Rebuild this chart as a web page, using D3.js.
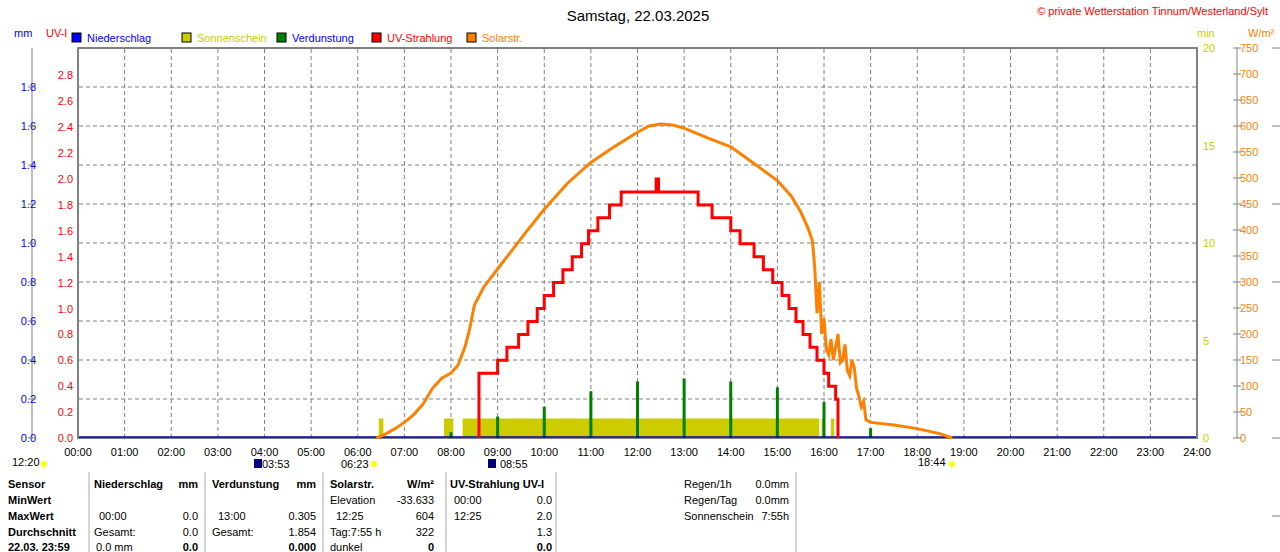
<!DOCTYPE html><html><head><meta charset="utf-8"><script src="https://cdn.jsdelivr.net/npm/d3@7"></script>
<style>body{margin:0;background:#fff}text{font-family:"Liberation Sans",Arial,sans-serif;font-size:11px}</style></head><body><svg id="c" width="1280" height="552"></svg><script>
const hours=d3.range(0,25);
const solarT=[6.4,6.6,6.8,7.0,7.2,7.4,7.6,7.8,8.0,8.15,8.3,8.4,8.5,8.7,9.0,9.3,9.6,10.0,10.5,11.0,11.5,12.0,12.25,12.5,12.75,13.0,13.5,14.0,14.5,15.0,15.3,15.5,15.65,15.75,15.8,15.85,15.9,15.95,16.0,16.05,16.1,16.15,16.2,16.25,16.3,16.35,16.4,16.45,16.5,16.55,16.6,16.65,16.7,16.75,16.8,16.85,16.9,17.0,17.5,18.0,18.5,18.75];
const solarW=[0,8,18,30,45,65,95,115,125,140,175,210,255,290,325,360,395,440,490,530,560,588,600,604,602,596,577,560,528,495,465,435,405,380,330,240,300,200,230,170,160,190,150,175,200,145,150,180,130,120,150,135,95,80,60,70,35,30,25,18,8,0];
const uvT=[8.6,8.6,9.0,9.2,9.45,9.65,9.85,10.0,10.2,10.4,10.6,10.8,10.95,11.15,11.4,11.65,12.4,12.45,12.5,13.3,13.6,14.0,14.2,14.5,14.7,14.9,15.1,15.25,15.4,15.55,15.7,15.85,16.0,16.1,16.25,16.3];
const uvV=[0,0.5,0.6,0.7,0.8,0.9,1.0,1.1,1.2,1.3,1.4,1.5,1.6,1.7,1.8,1.9,2.0,1.9,1.9,1.8,1.7,1.6,1.5,1.4,1.3,1.2,1.1,1.0,0.9,0.8,0.7,0.6,0.5,0.4,0.3,0.0];
const sunStart=[6.45,7.85,8.25,15.95,16.15];
const sunEnd=[6.55,8.05,15.9,16.0,16.22];
const sunMin=[1.0,1.0,1.0,1.0,1.0];
const evapT=[8.0,9.0,10.0,11.0,12.0,13.0,14.0,15.0,16.0,17.0];
const evapMM=[0.03,0.11,0.16,0.24,0.29,0.305,0.29,0.26,0.185,0.05];
const mmTicks=d3.range(0,1.81,0.2), uvTicks=d3.range(0,2.81,0.2), minTicks=[0,5,10,15,20], wTicks=d3.range(0,751,50);
const svg=d3.select("#c");
const x=d3.scaleLinear([0,24],[78,1197]);
const yMM=d3.scaleLinear([0,1.8],[438,87]);
const yUV=d3.scaleLinear([0,2.8],[438,75.4]);
const yW=d3.scaleLinear([0,750],[438,48]);
const yMin=d3.scaleLinear([0,20],[438,48]);
svg.append("rect").attr("x",78).attr("y",48).attr("width",1119).attr("height",390).attr("fill","none").attr("stroke","#808080").attr("stroke-width",2);
const g=svg.append("g").attr("stroke","#808080").attr("stroke-dasharray","4,3");
hours.slice(1,24).forEach(h=>g.append("line").attr("x1",x(h)).attr("x2",x(h)).attr("y1",49).attr("y2",437));
mmTicks.slice(1).forEach(v=>g.append("line").attr("x1",79).attr("x2",1196).attr("y1",yMM(v)).attr("y2",yMM(v)));
svg.append("g").selectAll("rect").data(sunStart).join("rect").attr("x",(d)=>x(d)).attr("width",(d,i)=>x(sunEnd[i])-x(d)).attr("y",(d,i)=>yMin(sunMin[i])).attr("height",(d,i)=>438-yMin(sunMin[i])).attr("fill","#cccc00");
svg.append("g").selectAll("rect").data(evapT).join("rect").attr("x",d=>x(d)-1.5).attr("width",3).attr("y",(d,i)=>yMM(evapMM[i])).attr("height",(d,i)=>438-yMM(evapMM[i])).attr("fill","#008000");
svg.append("line").attr("x1",79).attr("x2",1196).attr("y1",437).attr("y2",437).attr("stroke","#0000a0").attr("stroke-width",1.5);
svg.append("path").datum(solarT.map((t,i)=>[t,solarW[i]])).attr("d",d3.line().x(d=>x(d[0])).y(d=>yW(d[1]))).attr("fill","none").attr("stroke","#ff8000").attr("stroke-width",3);
svg.append("path").datum(uvT.map((t,i)=>[t,uvV[i]])).attr("d",d3.line().curve(d3.curveStepAfter).x(d=>x(d[0])).y(d=>yUV(d[1]))).attr("fill","none").attr("stroke","#ff0000").attr("stroke-width",3);
svg.append("line").attr("x1",32).attr("x2",32).attr("y1",48).attr("y2",438).attr("stroke","#808080");
const la=svg.append("g");
mmTicks.forEach(v=>{la.append("text").attr("x",36).attr("y",yMM(v)+4).attr("text-anchor","end").attr("fill","#0000ff").text(v.toFixed(1));la.append("line").attr("x1",28).attr("x2",36).attr("y1",yMM(v)).attr("y2",yMM(v)).attr("stroke","#808080");});
uvTicks.forEach(v=>la.append("text").attr("x",73).attr("y",yUV(v)+4).attr("text-anchor","end").attr("fill","#ff0000").text(v.toFixed(1)));
la.append("text").attr("x",14).attr("y",37).attr("fill","#0000ff").text("mm");
la.append("text").attr("x",46).attr("y",37).attr("fill","#ff0000").text("UV-I");
svg.append("line").attr("x1",1237).attr("x2",1237).attr("y1",48).attr("y2",438).attr("stroke","#808080");
minTicks.forEach(v=>svg.append("text").attr("x",1203).attr("y",yMin(v)+4).attr("fill","#cccc00").text(v));
wTicks.forEach(v=>{svg.append("text").attr("x",1240).attr("y",yW(v)+4).attr("fill","#ff8000").text(v);svg.append("line").attr("x1",1233).attr("x2",1241).attr("y1",yW(v)).attr("y2",yW(v)).attr("stroke","#808080");});
[48,126,204,282,360,438,516].forEach(y=>svg.append("line").attr("x1",1272).attr("x2",1280).attr("y1",y).attr("y2",y).attr("stroke","#808080"));
svg.append("text").attr("x",1197).attr("y",37).attr("fill","#cccc00").text("min");
svg.append("text").attr("x",1248).attr("y",37).attr("fill","#ff8000").text("W/m²");
hours.forEach(h=>svg.append("text").attr("x",x(h)).attr("y",456).attr("text-anchor","middle").text(d3.format("02")(h)+":00"));
svg.append("text").attr("x",638).attr("y",21).attr("text-anchor","middle").style("font-size","15px").text("Samstag, 22.03.2025");
svg.append("text").attr("x",1268).attr("y",15).attr("text-anchor","end").attr("fill","#ff0000").text("© private Wetterstation Tinnum/Westerland/Sylt");
const leg=[["Niederschlag","#0000ff","#0000ff",72],["Sonnenschein","#cccc00","#cccc00",182],["Verdunstung","#008000","#0000ff",277],["UV-Strahlung","#ff0000","#ff0000",372],["Solarstr.","#ff8000","#ff8000",467]];
leg.forEach(l=>{svg.append("rect").attr("x",l[3]).attr("y",33).attr("width",9).attr("height",9).attr("fill",l[1]).attr("stroke","#000");svg.append("text").attr("x",l[3]+15).attr("y",42).attr("fill",l[2]).text(l[0]);});
[[12,466,"12:20"],[262,468,"03:53"],[341,468,"06:23"],[500,468,"08:55"],[918,466,"18:44"]].forEach(m=>svg.append("text").attr("x",m[0]).attr("y",m[1]).text(m[2]));
svg.append("circle").attr("cx",44).attr("cy",464).attr("r",3).attr("fill","#ffff00");
svg.append("circle").attr("cx",374).attr("cy",464).attr("r",3).attr("fill","#ffff00");
svg.append("circle").attr("cx",952).attr("cy",464).attr("r",3).attr("fill","#ffff00");
svg.append("rect").attr("x",254).attr("y",459).attr("width",8).attr("height",9).attr("fill","#000080");
svg.append("rect").attr("x",488).attr("y",459).attr("width",8).attr("height",9).attr("fill","#000080");
[89,205,323,446,556,796].forEach(xx=>svg.append("line").attr("x1",xx).attr("x2",xx).attr("y1",472).attr("y2",552).attr("stroke","#aaa"));
const rows=[488,504,520,536,551];
const T=(xx,y,t,b,a)=>svg.append("text").attr("x",xx).attr("y",y).attr("text-anchor",a||"start").attr("font-weight",b?"bold":"normal").text(t);
["Sensor","MinWert","MaxWert","Durchschnitt","22.03. 23:59"].forEach((t,i)=>T(8,rows[i],t,true));
T(94,488,"Niederschlag",true);T(198,488,"mm",true,"end");
T(99,520,"00:00");T(198,520,"0.0",false,"end");T(94,536,"Gesamt:");T(198,536,"0.0",false,"end");T(96,551,"0.0 mm");T(198,551,"0.0",true,"end");
T(212,488,"Verdunstung",true);T(316,488,"mm",true,"end");
T(218,520,"13:00");T(316,520,"0.305",false,"end");T(212,536,"Gesamt:");T(316,536,"1.854",false,"end");T(316,551,"0.000",true,"end");
T(330,488,"Solarstr.",true);T(434,488,"W/m²",true,"end");
T(330,504,"Elevation");T(434,504,"-33.633",false,"end");T(336,520,"12:25");T(434,520,"604",false,"end");T(330,536,"Tag:7:55 h");T(434,536,"322",false,"end");T(330,551,"dunkel");T(434,551,"0",true,"end");
T(450,488,"UV-Strahlung UV-I",true);
T(454,504,"00:00");T(552,504,"0.0",false,"end");T(454,520,"12:25");T(552,520,"2.0",false,"end");T(552,536,"1.3",false,"end");T(552,551,"0.0",true,"end");
T(684,488,"Regen/1h");T(789,488,"0.0mm",false,"end");T(684,504,"Regen/Tag");T(789,504,"0.0mm",false,"end");T(684,520,"Sonnenschein");T(789,520,"7:55h",false,"end");
</script></body></html>
